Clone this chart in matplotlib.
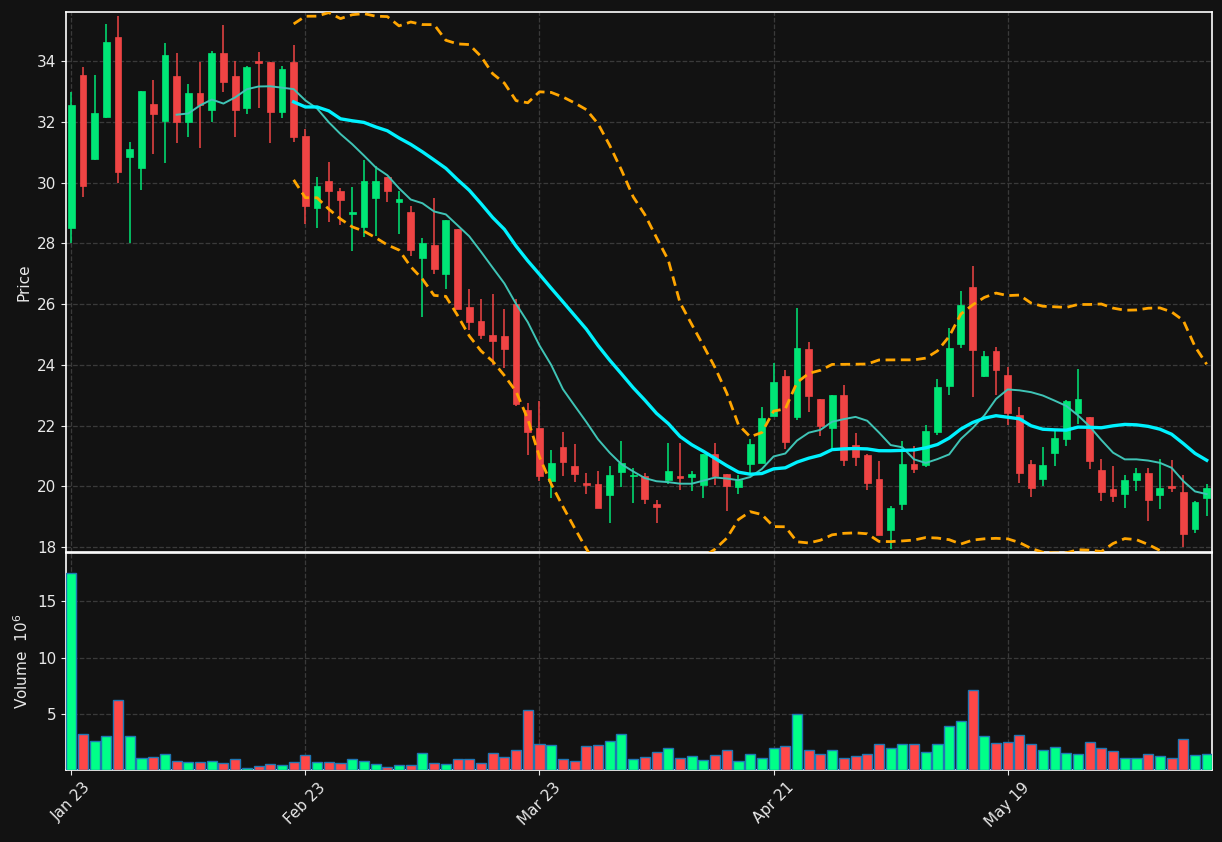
import numpy as np
import pandas as pd
import matplotlib
matplotlib.use("Agg")
import matplotlib.pyplot as plt

opens = [28.49, 33.55, 30.76, 32.17, 34.78, 30.83, 30.47, 32.60, 32.04, 33.52,
         31.99, 32.93, 32.37, 34.25, 33.52, 32.45, 34.00, 33.95, 32.32, 33.95,
         31.54, 29.15, 30.05, 29.72, 28.98, 28.53, 29.48, 30.18, 29.36, 29.03,
         27.50, 27.95, 27.00, 28.48, 25.90, 25.44, 24.98, 24.94, 25.99, 22.50,
         21.92, 20.17, 21.31, 20.66, 20.12, 20.07, 19.71, 20.47, 20.33, 20.35,
         19.41, 20.21, 20.33, 20.30, 20.04, 21.06, 20.40, 19.97, 20.74, 20.77,
         22.33, 23.62, 22.27, 24.52, 22.87, 21.93, 23.00, 21.35, 21.02, 20.23,
         18.56, 19.42, 20.73, 20.71, 21.79, 23.31, 24.70, 26.56, 23.63, 24.45,
         23.66, 22.34, 20.75, 20.24, 21.10, 21.56, 22.42, 22.27, 20.53, 19.90,
         19.75, 20.21, 20.45, 19.71, 20.00, 19.80, 18.59, 19.63]
highs = [32.99, 33.79, 33.54, 35.22, 35.48, 31.33, 33.02, 33.38, 34.60, 34.27,
         33.25, 33.96, 34.33, 35.19, 34.00, 33.82, 34.29, 33.95, 33.82, 34.51,
         31.77, 30.17, 30.67, 29.82, 29.84, 30.73, 30.54, 30.18, 29.72, 29.24,
         28.18, 29.49, 28.77, 28.48, 26.49, 26.16, 26.32, 25.83, 26.16, 22.76,
         22.80, 21.21, 21.80, 21.41, 20.44, 20.51, 20.68, 21.50, 20.62, 20.45,
         19.56, 21.42, 21.42, 20.50, 21.06, 21.44, 20.40, 20.38, 21.56, 22.60,
         24.05, 23.84, 25.88, 24.75, 22.87, 23.00, 23.35, 21.76, 21.07, 20.84,
         19.36, 21.50, 21.33, 22.03, 23.52, 25.22, 26.44, 27.24, 24.46, 24.60,
         23.93, 22.60, 20.88, 21.30, 21.83, 22.83, 23.86, 22.27, 20.91, 20.68,
         20.38, 20.62, 20.60, 20.89, 20.86, 20.38, 19.51, 20.09]
lows = [28.02, 29.52, 30.74, 32.13, 29.98, 28.02, 29.75, 30.94, 30.64, 31.30,
        31.50, 31.14, 31.99, 32.99, 31.50, 32.25, 32.46, 31.30, 32.13, 31.33,
        28.65, 28.50, 28.71, 28.59, 27.73, 28.20, 28.23, 29.35, 28.30, 27.59,
        25.59, 27.00, 26.49, 25.85, 25.13, 24.84, 24.00, 23.89, 22.63, 21.04,
        20.17, 19.61, 20.35, 20.15, 19.76, 19.29, 18.81, 19.98, 19.44, 19.42,
        18.81, 20.09, 19.89, 19.85, 19.63, 20.05, 19.19, 19.76, 20.45, 20.77,
        22.33, 21.23, 22.20, 22.45, 21.67, 21.24, 20.67, 20.67, 19.89, 18.39,
        17.95, 19.22, 20.45, 20.64, 21.70, 23.02, 24.54, 22.95, 23.59, 23.00,
        22.01, 20.12, 19.65, 20.01, 20.68, 21.33, 22.04, 20.56, 19.51, 19.50,
        19.30, 19.85, 18.86, 19.24, 19.82, 18.00, 18.48, 19.03]
closes = [32.56, 29.90, 32.30, 34.64, 30.34, 31.11, 33.02, 32.25, 34.21, 31.99,
          32.96, 32.54, 34.25, 33.31, 32.37, 33.79, 33.93, 32.32, 33.75, 31.51,
          29.24, 29.89, 29.72, 29.44, 29.03, 30.05, 30.05, 29.72, 29.47, 27.79,
          28.02, 27.17, 28.77, 25.85, 25.41, 24.99, 24.79, 24.53, 22.72, 21.79,
          20.34, 20.78, 20.80, 20.41, 20.05, 19.29, 20.36, 20.76, 20.35, 19.58,
          19.31, 20.49, 20.29, 20.40, 21.06, 20.33, 20.01, 20.22, 21.39, 22.24,
          23.42, 21.46, 24.55, 22.99, 21.99, 23.00, 20.87, 20.96, 20.11, 18.39,
          19.28, 20.73, 20.57, 21.81, 23.26, 24.55, 25.97, 24.49, 24.28, 23.84,
          22.40, 20.44, 19.96, 20.71, 21.59, 22.80, 22.87, 20.83, 19.81, 19.68,
          20.20, 20.45, 19.56, 19.96, 19.95, 18.43, 19.47, 19.94]
volumes = [17.5, 3.2, 2.59, 3.03, 6.21, 3.03, 1.09, 1.18, 1.44, 0.82,
           0.74, 0.74, 0.82, 0.65, 1.0, 0.21, 0.38, 0.56, 0.47, 0.74,
           1.35, 0.74, 0.74, 0.65, 1.0, 0.82, 0.56, 0.29, 0.47, 0.47,
           1.53, 0.65, 0.56, 1.0, 1.0, 0.65, 1.53, 1.18, 1.79, 5.32,
           2.32, 2.24, 1.0, 0.82, 2.15, 2.24, 2.59, 3.21, 1.0, 1.18,
           1.62, 1.97, 1.09, 1.26, 0.91, 1.35, 1.79, 0.82, 1.44, 1.09,
           1.97, 2.15, 4.97, 1.79, 1.44, 1.79, 1.09, 1.26, 1.44, 2.32,
           1.97, 2.32, 2.32, 1.62, 2.32, 3.91, 4.35, 7.09, 3.03, 2.41,
           2.5, 3.12, 2.32, 1.79, 2.06, 1.53, 1.44, 2.5, 1.97, 1.71,
           1.09, 1.09, 1.44, 1.26, 1.09, 2.76, 1.35, 1.44]
tick_pos = [0, 20, 40, 60, 80]
tick_labels = ["Jan 23", "Feb 23", "Mar 23", "Apr 21", "May 19"]

BG = "#121212"
UP_C, DN_C = "#00e676", "#ef4444"
UP_V, DN_V = "#00ff88", "#ff4747"

o = np.array(opens); h = np.array(highs); l = np.array(lows); c = np.array(closes)
v = np.array(volumes)
x = np.arange(len(c))
up = c >= o

cs = pd.Series(c)
ma10 = cs.rolling(10).mean()
ma20 = cs.rolling(20).mean()
sd20 = cs.rolling(20).std()
bb_up = ma20 + 2 * sd20
bb_lo = ma20 - 2 * sd20

fig = plt.figure(figsize=(12.22, 8.42), dpi=100, facecolor=BG)
axp = fig.add_axes([0.054, 0.3444, 0.9378, 0.6413], facecolor=BG)
axv = fig.add_axes([0.054, 0.0855, 0.9378, 0.2577], facecolor=BG, sharex=axp)

for ax in (axp, axv):
    ax.grid(True, linestyle="--", color="#3a3a3a", linewidth=0.9)
    ax.set_axisbelow(True)
    for s in ax.spines.values():
        s.set_color("white")
        s.set_linewidth(1.2)
    ax.tick_params(colors="#e8e8e8", labelsize=11)

# candles
cols = np.where(up, UP_C, DN_C)
axp.vlines(x, l, h, colors=cols, linewidth=1.1, zorder=2)
body_lo = np.minimum(o, c)
body_h = np.maximum(np.abs(c - o), 0.06)
axp.bar(x, body_h, bottom=body_lo, width=0.58, color=cols, edgecolor=cols,
        linewidth=0.5, zorder=3)

axp.plot(x, ma10, color="#3fc4b6", linewidth=1.4, zorder=4)
axp.plot(x, ma20, color="#00f2ff", linewidth=2.4, zorder=4)
axp.plot(x, bb_up, color="#ffa500", linewidth=2.0, linestyle=(0, (3.5, 2)), zorder=4)
axp.plot(x, bb_lo, color="#ffa500", linewidth=2.0, linestyle=(0, (3.5, 2)), zorder=4)

axp.set_ylim(17.84, 35.61)
axp.set_yticks(np.arange(18, 35, 2))
axp.set_ylabel("Price", color="#e8e8e8", fontsize=11)
axp.tick_params(axis="x", labelbottom=False, length=0)

# volume
vcols = np.where(up, UP_V, DN_V)
axv.bar(x, v, width=0.86, color=vcols, edgecolor="#1f77b4", linewidth=1.0, zorder=3)
axv.set_ylim(0, 19.3)
axv.set_yticks([5, 10, 15])
axv.set_ylabel("Volume  $10^{6}$", color="#e8e8e8", fontsize=11)

axv.set_xticks(tick_pos)
axv.set_xticklabels(tick_labels, rotation=45)
axv.set_xlim(-0.45, len(c) - 1 + 0.45)

fig.savefig("out.png", dpi=100, facecolor=BG)
